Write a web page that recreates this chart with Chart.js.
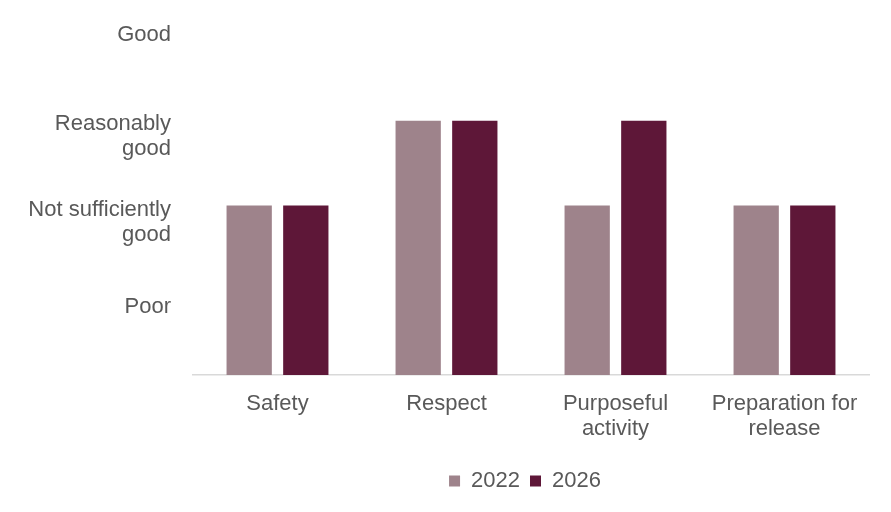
<!DOCTYPE html>
<html>
<head>
<meta charset="utf-8">
<script src="https://cdn.jsdelivr.net/npm/chart.js@4"></script>
<style>
  html, body { margin: 0; padding: 0; background: #fff; }
  #wrap { width: 891px; height: 512px; }
</style>
</head>
<body>
<div id="wrap"><canvas id="c" width="891" height="512"></canvas></div>
<script>
const categories = ['Safety', 'Respect', ['Purposeful', 'activity'], ['Preparation for', 'release']];
const series2022 = [2, 3, 2, 2];
const series2026 = [2, 3, 3, 2];
const seriesNames = ['2022', '2026'];
const levelLabels = ['Poor', ['Not sufficiently', 'good'], ['Reasonably', 'good'], 'Good'];
const levelTickValues = [0.80, 1.80, 2.81, 4.015];

const textColor = '#595959';
const fontSpec = { family: '"Liberation Sans", Arial, sans-serif', size: 22, lineHeight: 1.136 };
const legendFont = { family: '"Liberation Sans", Arial, sans-serif', size: 22, lineHeight: 1.2 };

const legendShift = {
  id: 'legendShift',
  afterLayout(chart) {
    const lg = chart.legend;
    if (lg) { lg.left = 181; lg.right = chart.chartArea.right; }
  }
};

new Chart(document.getElementById('c'), {
  type: 'bar',
  data: {
    labels: categories,
    datasets: [
      { label: seriesNames[0], data: series2022, backgroundColor: '#9E838B', categoryPercentage: 0.67, barPercentage: 0.8 },
      { label: seriesNames[1], data: series2026, backgroundColor: '#5E1738', categoryPercentage: 0.67, barPercentage: 0.8 }
    ]
  },
  plugins: [legendShift],
  options: {
    responsive: false,
    animation: false,
    devicePixelRatio: 1,
    layout: { padding: { left: 0, right: 22, top: 2, bottom: 10 } },
    plugins: {
      tooltip: { enabled: false },
      legend: {
        position: 'bottom',
        labels: { color: textColor, font: legendFont, boxWidth: 11, boxHeight: 11, padding: 10 }
      }
    },
    scales: {
      x: {
        grid: { display: false, drawTicks: false },
        border: { display: true, color: '#D9D9D9', width: 1.5 },
        ticks: { color: textColor, font: fontSpec, padding: 16, maxRotation: 0, autoSkip: false },
        afterFit: (s) => { s.height = 85; s.paddingLeft = 0; s.paddingRight = 0; }
      },
      y: {
        min: 0, max: 4.4,
        grid: { display: false, drawTicks: false },
        border: { display: false },
        afterBuildTicks: (s) => { s.ticks = levelTickValues.map(v => ({ value: v })); },
        ticks: {
          color: textColor, font: fontSpec, padding: 22, autoSkip: false,
          callback: (val, i) => levelLabels[i]
        },
        afterFit: (s) => { s.width = 193; s.paddingTop = 0; s.paddingBottom = 0; }
      }
    }
  }
});
</script>
</body>
</html>
